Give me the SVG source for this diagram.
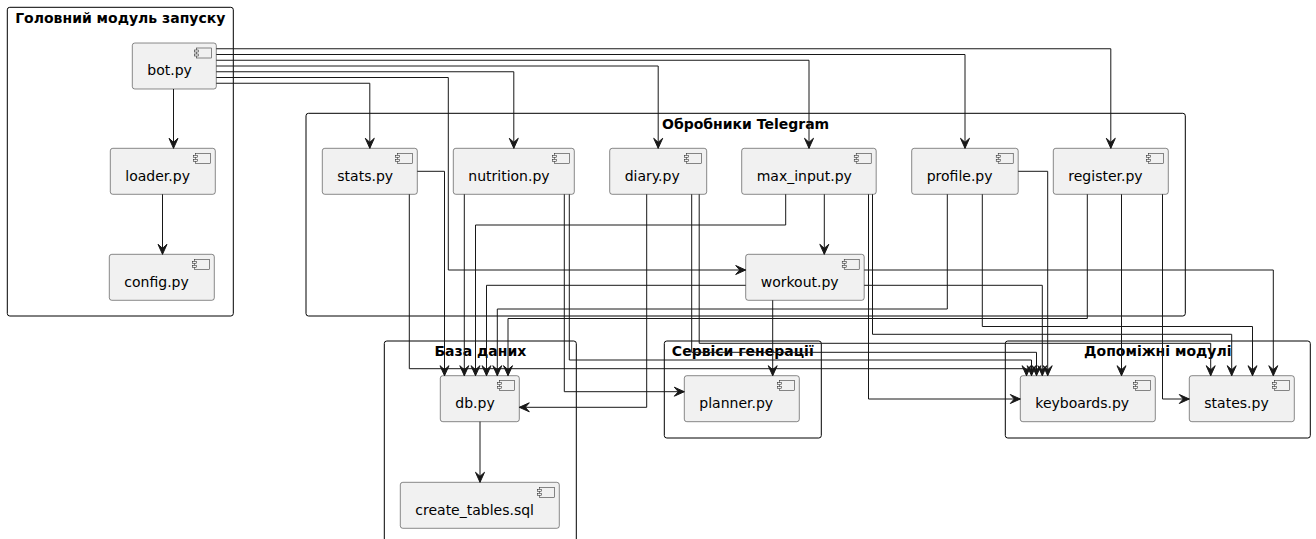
<svg xmlns="http://www.w3.org/2000/svg" width="1316" height="539" viewBox="0 0 1316 539">
<style>
.cl{fill:none;stroke:#000000;stroke-width:1}
.ct{font-family:"DejaVu Sans",sans-serif;font-size:14px;font-weight:bold;fill:#000000;text-anchor:middle}
.nb{fill:#F1F1F1;stroke:#181818;stroke-width:0.5}
.ic{fill:#F1F1F1;stroke:#181818;stroke-width:0.5}
.nt{font-family:"DejaVu Sans",sans-serif;font-size:14px;fill:#000000}
.e{fill:none;stroke:#181818;stroke-width:1;marker-end:url(#ah)}
</style>
<defs>
<marker id="ah" viewBox="-1 -1 12 11" refX="10" refY="4.5" markerWidth="12" markerHeight="11" markerUnits="userSpaceOnUse" orient="auto">
<path d="M0,0 L10,4.5 L0,9 L4,4.5 Z" fill="#181818" stroke="#181818" stroke-width="1" stroke-linejoin="miter"/>
</marker>
<g id="icon">
<rect class="ic" x="-20" y="5" width="15" height="10"/>
<rect class="ic" x="-22" y="7" width="4" height="2"/>
<rect class="ic" x="-22" y="11" width="4" height="2"/>
</g>
</defs>
<rect width="1316" height="539" fill="#FFFFFF"/>

<g id="clusters">
<g id="cluster-main">
<rect class="cl" x="7.3" y="7.3" width="226" height="308.7" rx="2.5"/>
<text class="ct" x="120.3" y="22.5">Головний модуль запуску</text>
</g>
<g id="cluster-handlers">
<rect class="cl" x="306" y="113.3" width="879.3" height="202.7" rx="2.5"/>
<text class="ct" x="745.6" y="128.6">Обробники Telegram</text>
</g>
<g id="cluster-db">
<rect class="cl" x="384.3" y="341" width="192" height="210" rx="2.5"/>
<text class="ct" x="480.3" y="356.3">База даних</text>
</g>
<g id="cluster-services">
<rect class="cl" x="664.3" y="341" width="157" height="97" rx="2.5"/>
<text class="ct" x="742.8" y="356.3">Сервіси генерації</text>
</g>
<g id="cluster-utils">
<rect class="cl" x="1005.3" y="341" width="305" height="97" rx="2.5"/>
<text class="ct" x="1157.8" y="356.3">Допоміжні модулі</text>
</g>
</g>

<g id="node-bot">
<rect class="nb" x="132.3" y="43" width="84" height="46" rx="2.5"/>
<use href="#icon" x="216.3" y="43"/>
<text class="nt" x="147.3" y="75.3">bot.py</text>
</g>
<g id="node-loader">
<rect class="nb" x="110.3" y="148.3" width="105" height="46" rx="2.5"/>
<use href="#icon" x="215.3" y="148.3"/>
<text class="nt" x="125.3" y="180.6">loader.py</text>
</g>
<g id="node-config">
<rect class="nb" x="109.3" y="254.3" width="105" height="46" rx="2.5"/>
<use href="#icon" x="214.3" y="254.3"/>
<text class="nt" x="124.3" y="286.6">config.py</text>
</g>
<g id="node-stats">
<rect class="nb" x="322.3" y="148.3" width="95" height="46" rx="2.5"/>
<use href="#icon" x="417.3" y="148.3"/>
<text class="nt" x="337.3" y="180.6">stats.py</text>
</g>
<g id="node-nutrition">
<rect class="nb" x="453.3" y="148.3" width="121" height="46" rx="2.5"/>
<use href="#icon" x="574.3" y="148.3"/>
<text class="nt" x="468.3" y="180.6">nutrition.py</text>
</g>
<g id="node-diary">
<rect class="nb" x="609.7" y="148.3" width="97" height="46" rx="2.5"/>
<use href="#icon" x="706.7" y="148.3"/>
<text class="nt" x="624.7" y="180.6">diary.py</text>
</g>
<g id="node-max_input">
<rect class="nb" x="741.7" y="148.3" width="134.5" height="46" rx="2.5"/>
<use href="#icon" x="876.2" y="148.3"/>
<text class="nt" x="756.7" y="180.6">max_input.py</text>
</g>
<g id="node-profile">
<rect class="nb" x="911.7" y="148.3" width="106.5" height="46" rx="2.5"/>
<use href="#icon" x="1018.2" y="148.3"/>
<text class="nt" x="926.7" y="180.6">profile.py</text>
</g>
<g id="node-register">
<rect class="nb" x="1053.3" y="148.3" width="115" height="46" rx="2.5"/>
<use href="#icon" x="1168.3" y="148.3"/>
<text class="nt" x="1068.3" y="180.6">register.py</text>
</g>
<g id="node-workout">
<rect class="nb" x="745.7" y="254.3" width="118.5" height="46" rx="2.5"/>
<use href="#icon" x="864.2" y="254.3"/>
<text class="nt" x="760.7" y="286.6">workout.py</text>
</g>
<g id="node-db">
<rect class="nb" x="440.3" y="375.7" width="79" height="46" rx="2.5"/>
<use href="#icon" x="519.3" y="375.7"/>
<text class="nt" x="455.3" y="408">db.py</text>
</g>
<g id="node-create_tables">
<rect class="nb" x="400.3" y="482.3" width="159" height="46" rx="2.5"/>
<use href="#icon" x="559.3" y="482.3"/>
<text class="nt" x="415.3" y="514.6">create_tables.sql</text>
</g>
<g id="node-planner">
<rect class="nb" x="684.3" y="375.7" width="115" height="46" rx="2.5"/>
<use href="#icon" x="799.3" y="375.7"/>
<text class="nt" x="699.3" y="408">planner.py</text>
</g>
<g id="node-keyboards">
<rect class="nb" x="1020.3" y="375.7" width="135" height="46" rx="2.5"/>
<use href="#icon" x="1155.3" y="375.7"/>
<text class="nt" x="1035.3" y="408">keyboards.py</text>
</g>
<g id="node-states">
<rect class="nb" x="1189.3" y="375.7" width="105" height="46" rx="2.5"/>
<use href="#icon" x="1294.3" y="375.7"/>
<text class="nt" x="1204.3" y="408">states.py</text>
</g>

<g id="connectors">
<path class="e" d="M173.5,89 V148.3"/>
<path class="e" d="M162.5,194.3 V254.3"/>
<path class="e" d="M216.3,48.75 H1110.8 V148.3"/>
<path class="e" d="M216.3,54.5 H965 V148.3"/>
<path class="e" d="M216.3,60.25 H809 V148.3"/>
<path class="e" d="M216.3,66 H658.2 V148.3"/>
<path class="e" d="M216.3,71.75 H513.8 V148.3"/>
<path class="e" d="M216.3,77.5 H448.3 V270 H745.7"/>
<path class="e" d="M216.3,83.25 H369.8 V148.3"/>
<path class="e" d="M417.3,171.3 H444.5 V375.7"/>
<path class="e" d="M409.3,194.3 V368.7 H1026.5 V375.7"/>
<path class="e" d="M464.3,194.3 V375.7"/>
<path class="e" d="M564.3,194.3 V391.7 H684.3"/>
<path class="e" d="M569.3,194.3 V360 H1031.5 V375.7"/>
<path class="e" d="M646.7,194.3 V407.3 H519.3"/>
<path class="e" d="M691.7,194.3 V352.3 H1036.5 V375.7"/>
<path class="e" d="M699.2,194.3 V343.3 H1210.7 V375.7"/>
<path class="e" d="M785.7,194.3 V225 H475.5 V375.7"/>
<path class="e" d="M824.3,194.3 V254.3"/>
<path class="e" d="M868.5,194.3 V399 H1020.3"/>
<path class="e" d="M872.5,194.3 V334.3 H1231.7 V375.7"/>
<path class="e" d="M1018.2,171.3 H1047.7 V375.7"/>
<path class="e" d="M947.3,194.3 V309 H497.3 V375.7"/>
<path class="e" d="M982.3,194.3 V326.5 H1252.5 V375.7"/>
<path class="e" d="M1087.3,194.3 V318.5 H508 V375.7"/>
<path class="e" d="M1121.5,194.3 V375.7"/>
<path class="e" d="M1162.5,194.3 V399 H1189.3"/>
<path class="e" d="M745.7,285.3 H486.5 V375.7"/>
<path class="e" d="M864.2,270 H1273.3 V375.7"/>
<path class="e" d="M864.2,285.3 H1042.3 V375.7"/>
<path class="e" d="M772.7,300.3 V375.7"/>
<path class="e" d="M480,421.7 V482.3"/>
</g>
</svg>
